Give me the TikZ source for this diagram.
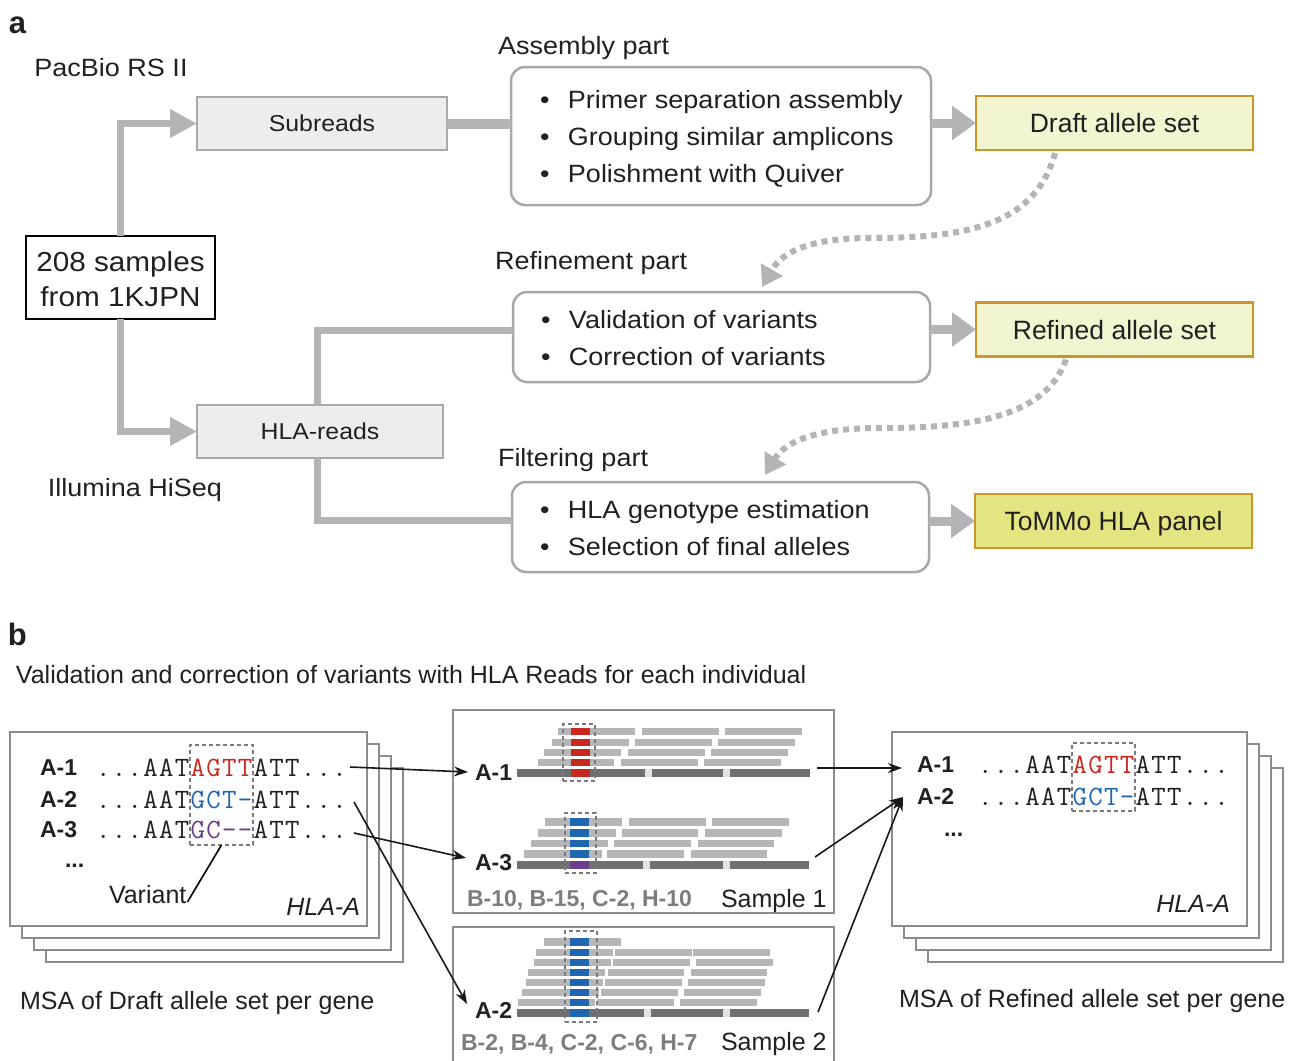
\documentclass[tikz,border=0pt]{standalone}
\usepackage{fontspec}
\setmainfont{Liberation Sans}
\newfontfamily\afont[FakeStretch=1.08]{Liberation Sans}
\usetikzlibrary{arrows.meta}
\definecolor{gline}{HTML}{B4B4B6}
\definecolor{gborder}{HTML}{A8A8AA}
\definecolor{gfill}{HTML}{EDEDED}
\definecolor{gold}{HTML}{C9962B}
\definecolor{ylight}{HTML}{F1F5D0}
\definecolor{ydark}{HTML}{E3E680}
\definecolor{vred}{HTML}{C8281E}
\definecolor{vblue}{HTML}{1F66B0}
\definecolor{vpurple}{HTML}{6A3D8F}
\definecolor{readc}{HTML}{B6B6B9}
\definecolor{barc}{HTML}{707072}
\definecolor{gapc}{HTML}{E2E2E2}
\definecolor{gtext}{HTML}{7D7D7F}
\definecolor{txt}{HTML}{231F20}
\definecolor{sgray}{HTML}{8C8C8E}
\definecolor{dgray}{HTML}{7A7A7C}
\newcommand\fntA{\afont\fontsize{25}{30}\selectfont}
\newcommand\fntS{\afont\fontsize{23}{27}\selectfont}
\newcommand\fntN{\afont\fontsize{27.5}{32}\selectfont}
\newcommand\fntY{\fontsize{26.5}{31}\selectfont}
\newcommand\fntB{\fontsize{25}{30}\selectfont}
\newcommand\fntL{\bfseries\fontsize{23}{27}\selectfont}
\newcommand\fntQ{\ttfamily\fontsize{28}{32}\selectfont}
\newcommand\fntH{\bfseries\fontsize{31}{36}\selectfont}
\newcommand\seqch[1]{\makebox[15.75pt][c]{#1}}
\def\sqloop#1{\ifx\relax#1\else\seqch{#1}\expandafter\sqloop\fi}
\newcommand\bul{\makebox[28pt][l]{\textbullet}}
\begin{document}
\begin{tikzpicture}[x=1pt,y=-1pt,
 every node/.style={inner sep=0pt,outer sep=0pt,text=txt},
 gbox/.style={draw=gborder,fill=gfill,line width=2.5pt,font=\fntS,text height=16.5pt,text depth=0pt},
 rbox/.style={draw=gborder,fill=white,line width=2.5pt,rounded corners=14pt},
 ybox/.style={draw=gold,line width=2.5pt,font=\fntY,text height=19pt,text depth=0pt,minimum width=277pt,minimum height=54pt},
 flow/.style={draw=gline,line width=7pt},
 bighead/.style={-{Triangle[length=27pt,width=27pt]}},
 outhead/.style={line width=9pt,-{Triangle[length=24pt,width=33pt]}},
 dotc/.style={draw=gline,line width=6pt,dash pattern=on 6pt off 5pt,-{Triangle[length=20pt,width=24pt]}},
 stackbox/.style={draw=sgray,fill=white,line width=1.5pt},
 varbox/.style={draw=dgray,line width=1.6pt,dash pattern=on 4pt off 3pt},
 arr/.style={draw=black!90,line width=1.6pt,-{Stealth[length=14pt,width=10pt]}},
 lab/.style={font=\fntL,anchor=base west},
 seqtxt/.style={font=\fntQ,anchor=base west},
 txa/.style={font=\fntA,anchor=base west},
]
\useasboundingbox (0,0) rectangle (1303,1060);
\fill[white] (0,0) rectangle (1303,1060);

% ---------------- part a ----------------
\node[font=\fntH,anchor=base west] (la) at (9,33) {a};
\node[font=\fntA,anchor=base] (pacbio) at (111,76) {PacBio RS II};
\node[draw=black,line width=1.2pt,fill=white,minimum width=189pt,minimum height=83pt] (s208) at (120.5,277.5) {};
\node[font=\fntN,anchor=base] (s208a) at (120.5,271) {208 samples};
\node[font=\fntN,anchor=base] (s208b) at (120.5,306) {from 1KJPN};
\node[gbox,minimum width=250pt,minimum height=53pt] (subreads) at (322,123.5) {Subreads};
\node[gbox,minimum width=246pt,minimum height=53pt] (hlareads) at (320,431.5) {HLA-reads};
\node[font=\fntA,anchor=base] (illum) at (135,496) {Illumina HiSeq};

\node[txa] (asmlab) at (498,54) {Assembly part};
\node[rbox,minimum width=420pt,minimum height=138pt] (asm) at (721,136) {};
\node[txa] (asm1) at (540,108) {\bul Primer separation assembly};
\node[txa] (asm2) at (540,145) {\bul Grouping similar amplicons};
\node[txa] (asm3) at (540,182) {\bul Polishment with Quiver};

\node[txa] (reflab) at (495,269) {Refinement part};
\node[rbox,minimum width=417pt,minimum height=90pt] (refine) at (721.5,337) {};
\node[txa] (ref1) at (541,328) {\bul Validation of variants};
\node[txa] (ref2) at (541,365) {\bul Correction of variants};

\node[txa] (fillab) at (498,466) {Filtering part};
\node[rbox,minimum width=417pt,minimum height=90pt] (filter) at (720.5,527) {};
\node[txa] (fil1) at (540,518) {\bul HLA genotype estimation};
\node[txa] (fil2) at (540,555) {\bul Selection of final alleles};

\node[ybox,fill=ylight] (draft) at (1114.5,123) {Draft allele set};
\node[ybox,fill=ylight] (refined) at (1114.5,329.5) {Refined allele set};
\node[ybox,fill=ydark] (tommo) at (1113.5,521) {ToMMo HLA panel};

\draw[flow,bighead] (s208.north) |- (subreads.west);
\draw[flow,bighead] (s208.south) |- (hlareads.west);
\draw[flow] ([xshift=-3pt]hlareads.north) |- ([yshift=7pt]refine.west);
\draw[flow] ([xshift=-3pt]hlareads.south) |- ([yshift=7pt]filter.west);
\draw[flow,line width=10pt] (subreads.east) -- (subreads.east -| asm.west);
\draw[flow,outhead] (asm.east |- draft.west) -- (draft.west);
\draw[flow,outhead] (refine.east |- refined.west) -- (refined.west);
\draw[flow,outhead] (filter.east |- tommo.west) -- (tommo.west);

\draw[dotc] ([xshift=-59.5pt,yshift=-3pt]draft.south) .. controls (1035,228) and (960,238) .. (870,238)
  .. controls (810,238) and (782,252) .. ([xshift=40.5pt,yshift=5pt]refine.north);
\draw[dotc] ([xshift=-48.5pt,yshift=-3pt]refined.south) .. controls (1045,418) and (970,428) .. (880,428)
  .. controls (815,428) and (785,442) .. ([xshift=44.5pt,yshift=7pt]filter.north);

% ---------------- part b ----------------
\node[font=\fntH,anchor=base west] (lb) at (8,645) {b};
\node[font=\fntB,anchor=base west] (title) at (16,683) {Validation and correction of variants with HLA Reads for each individual};

% left stack
\foreach \i in {3,2,1,0} \draw[stackbox] (10+12*\i,732+12*\i) rectangle (367+12*\i,926+12*\i);
\node[varbox,minimum width=63pt,minimum height=100pt] (lvar) at (221.5,795) {};
\node[lab] (la1) at (40,775) {A-1};
\node[lab] (la2) at (40,807) {A-2};
\node[lab] (la3) at (40,837) {A-3};
\node[lab] (ldots) at (65,867) {...};
\node[seqtxt] (lseq1) at (95.5,776) {\sqloop...AAT\relax\textcolor{vred}{\sqloop AGTT\relax}\sqloop ATT...\relax};
\node[seqtxt] (lseq2) at (95.5,808) {\sqloop...AAT\relax\textcolor{vblue}{\sqloop GCT-\relax}\sqloop ATT...\relax};
\node[seqtxt] (lseq3) at (95.5,838) {\sqloop...AAT\relax\textcolor{vpurple}{\sqloop GC--\relax}\sqloop ATT...\relax};
\node[font=\fntB,anchor=base west] (variant) at (109,903) {Variant};
\draw[line width=1.6pt] ([xshift=1pt,yshift=-8pt]variant.east) -- (lvar.south);
\node[font=\fntB\itshape,anchor=base east] (lhla) at (360,915) {HLA-A};
\node[font=\fntB,anchor=base west] (lcap) at (20,1009) {MSA of Draft allele set per gene};

% sample 1
\node[draw=sgray,line width=1.5pt,minimum width=381pt,minimum height=203pt] (s1) at (643.5,811.5) {};
\foreach \a/\b in {558/635,642/719,725/802} \fill[readc] (\a,728) rectangle (\b,735);
\foreach \a/\b in {552/629,635/712,718/795} \fill[readc] (\a,739) rectangle (\b,746);
\foreach \a/\b in {544/621,628/705,711/788} \fill[readc] (\a,749) rectangle (\b,756);
\foreach \a/\b in {538/614,621/698,704/781} \fill[readc] (\a,759) rectangle (\b,766);
\fill[barc] (517,769) rectangle (810,777);
\fill[gapc] (645,769) rectangle (652,777);
\fill[gapc] (723,769) rectangle (730,777);
\foreach \y in {728,739,749,759} \fill[vred] (571,\y) rectangle (590,\y+7);
\fill[vred] (571,769) rectangle (590,777);
\node[varbox,minimum width=32pt,minimum height=57pt] (s1v1) at (579,752.5) {};
\node[lab] (s1a1) at (475,780) {A-1};

\foreach \a/\b in {545/622,629/706,712/789} \fill[readc] (\a,818) rectangle (\b,825.5);
\foreach \a/\b in {538/616,622/698,705/782} \fill[readc] (\a,829) rectangle (\b,836.5);
\foreach \a/\b in {531/608,614/691,698/774} \fill[readc] (\a,839.5) rectangle (\b,847);
\foreach \a/\b in {524/602,607/684,691/767} \fill[readc] (\a,850) rectangle (\b,857.5);
\fill[barc] (517,861) rectangle (809,868.5);
\fill[gapc] (643,861) rectangle (650,868.5);
\fill[gapc] (723,861) rectangle (730,868.5);
\foreach \y in {818,829,839.5,850} \fill[vblue] (570,\y) rectangle (589,\y+7.5);
\fill[vpurple] (570,861) rectangle (589,868.5);
\node[varbox,minimum width=31pt,minimum height=60pt] (s1v3) at (580.5,843) {};
\node[lab] (s1a3) at (475,870) {A-3};
\node[font=\fntL,text=gtext,anchor=base west] (s1g) at (467,906) {B-10, B-15, C-2, H-10};
\node[font=\fntB,anchor=base west] (s1n) at (721,907) {Sample 1};

% sample 2
\draw[draw=sgray,line width=1.5pt] (453,1075) |- (834,927) -- (834,1075);
\foreach \a/\b in {544/621} \fill[readc] (\a,938) rectangle (\b,945.5);
\foreach \a/\b in {536/613,615/692,693/770} \fill[readc] (\a,948.5) rectangle (\b,956);
\foreach \a/\b in {534/611,613/690,696/773} \fill[readc] (\a,958.5) rectangle (\b,966);
\foreach \a/\b in {528/605,608/684,691/767} \fill[readc] (\a,968.5) rectangle (\b,976);
\foreach \a/\b in {526/603,605/682,688/765} \fill[readc] (\a,978.5) rectangle (\b,986);
\foreach \a/\b in {522/599,601/678,684/761} \fill[readc] (\a,988.5) rectangle (\b,996);
\foreach \a/\b in {518/595,597/674,680/757} \fill[readc] (\a,998.5) rectangle (\b,1006);
\fill[barc] (517,1009) rectangle (809,1017);
\fill[gapc] (644,1009) rectangle (651,1017);
\fill[gapc] (723,1009) rectangle (730,1017);
\foreach \y in {938,948.5,958.5,968.5,978.5,988.5,998.5} \fill[vblue] (570,\y) rectangle (589,\y+7.5);
\fill[vblue] (570,1009) rectangle (589,1017);
\node[varbox,minimum width=32pt,minimum height=91pt] (s2v2) at (581,976.5) {};
\node[lab] (s2a2) at (475,1018) {A-2};
\node[font=\fntL,text=gtext,anchor=base west] (s2g) at (461,1050) {B-2, B-4, C-2, C-6, H-7};
\node[font=\fntB,anchor=base west] (s2n) at (721,1050) {Sample 2};

% right stack
\foreach \i in {3,2,1,0} \draw[stackbox] (892+12*\i,732+12*\i) rectangle (1247+12*\i,926+12*\i);
\node[varbox,minimum width=63pt,minimum height=68pt] (rvar) at (1103.5,777) {};
\node[lab] (ra1) at (917,772) {A-1};
\node[lab] (ra2) at (917,804) {A-2};
\node[lab] (rdots) at (944,836) {...};
\node[seqtxt] (rseq1) at (977.5,773) {\sqloop...AAT\relax\textcolor{vred}{\sqloop AGTT\relax}\sqloop ATT...\relax};
\node[seqtxt] (rseq2) at (977.5,805) {\sqloop...AAT\relax\textcolor{vblue}{\sqloop GCT-\relax}\sqloop ATT...\relax};
\node[font=\fntB\itshape,anchor=base east] (rhla) at (1230,912) {HLA-A};
\node[font=\fntB,anchor=base west] (rcap) at (899,1007) {MSA of Refined allele set per gene};

% connectors
\coordinate (l1e) at (350,767);
\coordinate (l2e) at (354,802);
\coordinate (l3e) at (354,833);
\coordinate (s1in1) at (468,772);
\coordinate (s1in3) at (466,858);
\coordinate (s2in2) at (467,1004);
\coordinate (s1out1) at (817,768);
\coordinate (s1out3) at (815,857);
\coordinate (s2out2) at (818,1012);
\coordinate (rin1) at (902,768);
\coordinate (rin2) at (903,797);
\draw[arr] (l1e) -- (s1in1);
\draw[arr] (l2e) -- (s2in2);
\draw[arr] (l3e) -- (s1in3);
\draw[arr] (s1out1) -- (rin1);
\draw[arr] (s1out3) -- (rin2);
\draw[arr] (s2out2) -- (rin2);
\end{tikzpicture}
\end{document}
